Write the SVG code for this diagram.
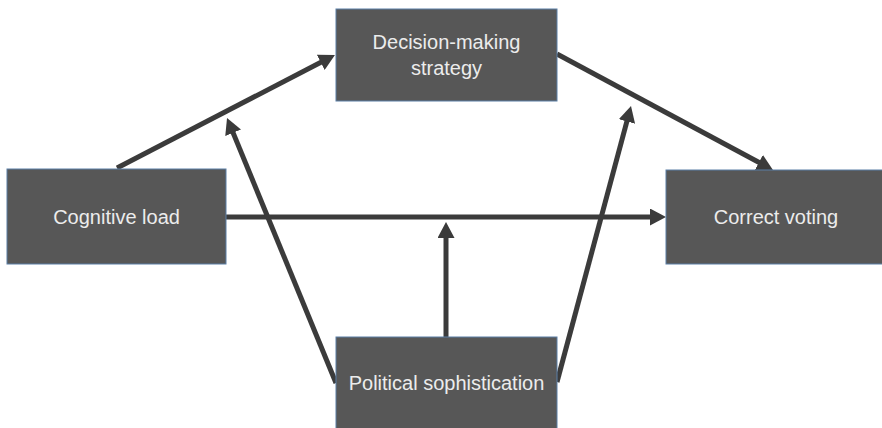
<svg xmlns="http://www.w3.org/2000/svg" width="882" height="428" viewBox="0 0 882 428">
  <style>
    .box { fill: #575757; stroke: #5b7fa6; stroke-width: 1; }
    .lbl { font-family: "Liberation Sans", Arial, sans-serif; font-size: 20px; fill: #ececec; text-anchor: middle; }
    .conn { stroke: #3b3b3b; stroke-width: 5; fill: none; marker-end: url(#ah); }
  </style>
  <defs>
    <marker id="ah" markerUnits="userSpaceOnUse" markerWidth="16" markerHeight="17" refX="4" refY="8.5" orient="auto">
      <path d="M0,0 L16,8.5 L0,17 z" fill="#3b3b3b"/>
    </marker>
  </defs>
  <rect width="882" height="428" fill="#ffffff"/>
  <g id="connectors">
    <line class="conn" x1="117" y1="168" x2="324.3" y2="60.5"/>
    <line class="conn" x1="557" y1="54" x2="762.4" y2="164.3"/>
    <line class="conn" x1="226" y1="217" x2="654" y2="217"/>
    <line class="conn" x1="446" y1="337" x2="446" y2="234"/>
    <line class="conn" x1="336" y1="383" x2="231.6" y2="129.1"/>
    <line class="conn" x1="557" y1="382" x2="627.9" y2="117.6"/>
  </g>
  <g id="decision">
    <rect class="box" x="336" y="9" width="221" height="92"/>
    <text class="lbl" x="446.5" y="49">Decision-making</text>
    <text class="lbl" x="446.5" y="75">strategy</text>
  </g>
  <g id="cognitive">
    <rect class="box" x="7" y="169" width="219" height="95"/>
    <text class="lbl" x="116.5" y="224">Cognitive load</text>
  </g>
  <g id="correct">
    <rect class="box" x="666" y="170" width="220" height="94"/>
    <text class="lbl" x="776" y="224">Correct voting</text>
  </g>
  <g id="political">
    <rect class="box" x="336" y="337" width="221" height="95"/>
    <text class="lbl" x="446.5" y="390">Political sophistication</text>
  </g>
</svg>
